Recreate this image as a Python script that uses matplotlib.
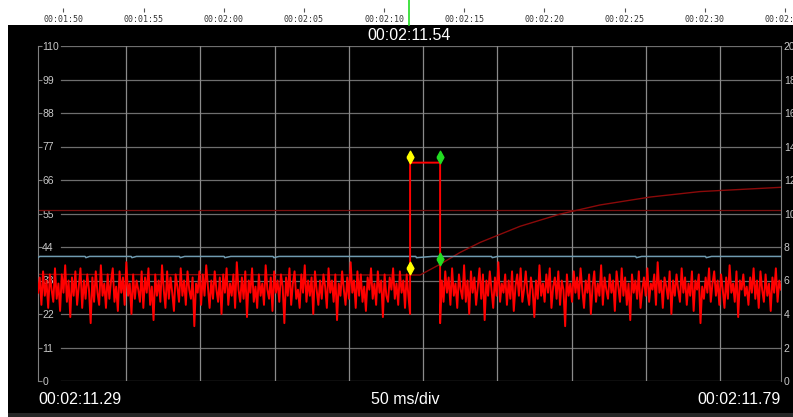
"""Scope-style trace view: red level trace with a cursor pair and a timeline strip on top."""
import matplotlib
matplotlib.use("Agg")
import matplotlib.pyplot as plt
import numpy as np
from matplotlib.patches import Rectangle

# --- data -------------------------------------------------------------------
t_start, t_end = 131.2908, 131.7908          # 00:02:11.29 .. 00:02:11.79
grid_times = [131.35, 131.40, 131.45, 131.50, 131.55, 131.60, 131.65, 131.70, 131.75]
left_ticks = [0, 11, 22, 33, 44, 55, 66, 77, 88, 99, 110]
right_ticks = [0, 2, 4, 6, 8, 10, 12, 14, 16, 18, 20]

strip_ticks = [110, 115, 120, 125, 130, 135, 140, 145, 150, 155]
strip_labels = ["00:01:50", "00:01:55", "00:02:00", "00:02:05", "00:02:10",
                "00:02:15", "00:02:20", "00:02:25", "00:02:30", "00:02:35"]
cursor_time = 131.54

# red trace, before the pulse
noise_a = [29, 34, 25, 36, 28, 33, 24, 35, 30, 26,
           37, 27, 32, 23, 35, 29, 38, 26, 33, 21,
           34, 28, 36, 25, 31, 37, 24, 33, 27, 35,
           30, 19, 34, 26, 36, 29, 25, 38, 28, 32,
           24, 35, 27, 33, 37, 26, 31, 23, 36, 29,
           34, 25, 39, 28, 32, 22, 35, 27, 33, 30,
           26, 36, 24, 34, 29, 37, 25, 31, 20, 35,
           28, 33, 26, 38, 30, 24, 36, 27, 34, 29,
           23, 35, 31, 26, 37, 28, 33, 25, 36, 30,
           27, 34, 18, 32, 29, 36, 25, 35, 28, 38,
           31, 24, 33, 27, 36, 30, 26, 34, 22, 35,
           29, 37, 25, 32, 28, 35, 24, 39, 30, 26,
           34, 27, 36, 21, 33, 29, 37, 26, 31, 24,
           35, 28, 32, 25, 38, 30, 27, 34, 23, 36,
           29, 33, 26, 35, 31, 19, 34, 28, 37, 25,
           32, 36, 27, 30, 24, 35, 29, 38, 26, 33,
           28, 34, 22, 36, 30, 25, 33, 27, 35, 31,
           24, 37, 29, 33, 26, 35, 20, 32, 28, 36,
           30, 25, 34, 27, 39, 29, 33, 24, 36, 28,
           35, 26, 31, 23, 34, 30, 37, 27, 32, 25,
           36, 29, 33, 21, 35, 28, 26, 34, 30, 37,
           27, 32, 25, 36, 29, 33, 24, 35, 28, 22]
# pulse
pulse_times = [131.5412, 131.5614]
pulse_values = [71.7, 71.7]
# red trace, after the pulse
noise_b = [19, 33, 26, 36, 29, 34, 25, 37, 28, 32,
           24, 35, 30, 27, 38, 26, 33, 22, 36, 29,
           34, 25, 31, 37, 27, 35, 20, 33, 28, 36,
           30, 24, 34, 28, 39, 26, 32, 29, 35, 25,
           33, 27, 36, 23, 31, 35, 28, 37, 26, 30,
           36, 29, 25, 34, 30, 21, 33, 27, 38, 28,
           32, 26, 35, 29, 37, 24, 31, 34, 27, 36,
           25, 33, 30, 18, 35, 28, 32, 26, 36, 29,
           34, 27, 37, 30, 24, 33, 29, 35, 22, 31,
           36, 26, 32, 28, 38, 25, 34, 30, 27, 35,
           29, 33, 23, 36, 31, 26, 37, 28, 34, 25,
           32, 20, 35, 29, 33, 27, 36, 24, 30, 34,
           28, 37, 26, 32, 30, 35, 25, 39, 29, 33,
           24, 34, 31, 27, 36, 22, 33, 28, 35, 30,
           26, 37, 29, 34, 25, 32, 28, 36, 23, 33,
           30, 35, 19, 31, 27, 34, 29, 37, 26, 32,
           36, 28, 33, 25, 35, 30, 24, 34, 27, 38,
           29, 32, 26, 36, 21, 33, 30, 35, 28, 31,
           25, 34, 29, 37, 27, 33, 24, 36, 30, 26,
           35, 28, 32, 23, 34, 29, 37, 26, 33, 30]

# light blue reference trace
blue_times = [131.2908, 131.2912, 131.2918, 131.3225, 131.3230, 131.3255,
              131.3535, 131.3540, 131.3570, 131.3860, 131.3865, 131.3895,
              131.4160, 131.4165, 131.4205, 131.4490, 131.4495, 131.4530,
              131.5450, 131.5455, 131.5560, 131.5960, 131.5965, 131.6000,
              131.6930, 131.6935, 131.6970, 131.7400, 131.7405, 131.7440, 131.7908]
blue_values = [40.6, 40.6, 40.9, 40.9, 40.5, 40.9,
               40.9, 40.5, 40.9, 40.9, 40.5, 40.9,
               40.9, 40.5, 40.9, 40.9, 40.5, 40.9,
               40.9, 40.5, 40.9, 40.9, 40.5, 40.9,
               40.9, 40.5, 40.9, 40.9, 40.5, 40.9, 40.9]

# dark red smoothed trace
curve_times = [131.2908, 131.5479, 131.5620, 131.5748, 131.5883, 131.6152,
               131.6421, 131.6690, 131.7027, 131.7363, 131.7908]
curve_values = [35.0, 34.8, 38.5, 42.2, 45.5, 50.8, 54.8, 57.8, 60.4, 62.2, 63.6]
level_line = 56.1

# cursor markers (time, value)
cursor_a = ([131.5412, 131.5412], [73.4, 37.0])
cursor_b = ([131.5614, 131.5614], [73.4, 40.0])

# --- figure -----------------------------------------------------------------
W, H = 793, 417
fig = plt.figure(figsize=(W / 100, H / 100), dpi=100, facecolor="white")
fig.patches.append(Rectangle((8 / W, 4 / H), (W - 8) / W, 388 / H,
                             transform=fig.transFigure, facecolor="black",
                             edgecolor="none", zorder=-10))
fig.patches.append(Rectangle((8 / W, 0), (W - 8) / W, 4 / H,
                             transform=fig.transFigure, facecolor="#262626",
                             edgecolor="none", zorder=-10))

font = ["Liberation Sans", "DejaVu Sans"]
grid_col = "#6e6e6e"
label_col = "#c8c8c8"

# timeline strip
strip = fig.add_axes([0, 1 - 12 / H, 1, 12 / H])
strip.set_facecolor("none")
strip.set_xlim(106.04, 155.51)
strip.set_ylim(0, 1)
for s in strip.spines.values():
    s.set_visible(False)
strip.set_yticks([])
strip.set_xticks(strip_ticks)
strip.set_xticklabels(strip_labels, family="DejaVu Sans Mono", fontsize=6, color="#333333")
strip.tick_params(axis="x", direction="in", length=3, width=0.8, color="#555555", pad=2)
strip.axvline(cursor_time, ymin=-1.08, ymax=1, color="#22dd22", lw=1.2, clip_on=False)

# main plot
ax = fig.add_axes([38 / W, 36 / H, 743 / W, 335 / H])
ax.set_facecolor("none")
ax.set_xlim(t_start, t_end)
ax.set_ylim(0, 110)
for side in ("top", "bottom"):
    ax.spines[side].set_visible(False)
for side in ("left", "right"):
    ax.spines[side].set_color("#808080")
ax.set_xticks(grid_times)
ax.set_xticklabels([])
ax.tick_params(axis="x", length=0)
ax.grid(axis="x", color="#8a8a8a", lw=0.9)
for v in left_ticks:
    ax.axhline(v, xmin=23 / 743, xmax=1, color=grid_col, lw=0.9, zorder=1)

ax.set_yticks(left_ticks)
ax.tick_params(axis="y", direction="in", length=3, color="#808080",
               labelcolor=label_col, labelsize=7.5, pad=-3)
for lab in ax.get_yticklabels():
    lab.set_horizontalalignment("left")
    lab.set_family(font)

dt_a = (pulse_times[0] - t_start) / (len(noise_a) - 1)
times_a = t_start + dt_a * np.arange(len(noise_a))
dt_b = (t_end - pulse_times[1]) / (len(noise_b) - 1)
times_b = pulse_times[1] + dt_b * np.arange(len(noise_b))
red_t = np.concatenate([times_a, pulse_times, times_b])
red_v = np.concatenate([noise_a, pulse_values, noise_b])

ax.axhline(level_line, color="#7a1010", lw=0.9, zorder=2)
ax.plot(curve_times, curve_values, color="#8b0a0a", lw=1.0, zorder=2)
ax.plot(blue_times, blue_values, color="#6f9bb0", lw=1.1, zorder=3)
ax.plot(red_t, red_v, color="#ff0000", lw=1.4, zorder=4)
diamond = [(-0.55, 0), (0, 1), (0.55, 0), (0, -1), (-0.55, 0)]
ax.plot(*cursor_a, ls="none", marker=diamond, ms=9, color="#ffff00", mec="#ffff00", zorder=6)
ax.plot(*cursor_b, ls="none", marker=diamond, ms=9, color="#22dd22", mec="#22dd22", zorder=6)

rax = ax.twinx()
rax.set_ylim(0, 20)
rax.set_yticks(right_ticks)
rax.tick_params(axis="y", length=0, labelcolor=label_col, labelsize=7.5, pad=2)
for lab in rax.get_yticklabels():
    lab.set_family(font)
for s in rax.spines.values():
    s.set_visible(False)

# texts
cx = (38 + 781) / 2 / W
fig.text(cx, 1 - 36 / H, "00:02:11.54", color="white", fontsize=11.5,
         family=font, ha="center", va="center")
fig.text(38 / W, 1 - 400 / H, "00:02:11.29", color="white", fontsize=11.5,
         family=font, ha="left", va="center")
fig.text(405 / W, 1 - 400 / H, "50 ms/div", color="white", fontsize=11.5,
         family=font, ha="center", va="center")
fig.text(781 / W, 1 - 400 / H, "00:02:11.79", color="white", fontsize=11.5,
         family=font, ha="right", va="center")

fig.savefig("out.png", dpi=100, facecolor="white")
